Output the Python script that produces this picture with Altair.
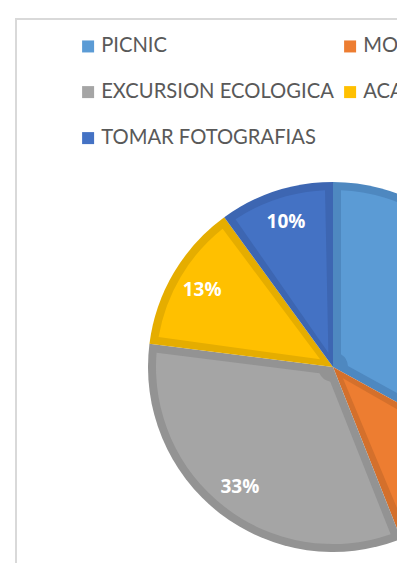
import altair as alt
import pandas as pd

categorias = ["PICNIC", "MONTAR A CABALLO", "EXCURSION ECOLOGICA", "ACAMPAR", "TOMAR FOTOGRAFIAS"]
porcentajes = [33, 11, 33, 13, 10]
colores = ["#5B9BD5", "#ED7D31", "#A5A5A5", "#FFC000", "#4472C4"]
bordes = ["#4E88C0", "#D4702C", "#939393", "#E5AD00", "#3D66B2"]

df = pd.DataFrame({
    "cat": categorias,
    "valor": porcentajes,
    "orden": list(range(len(categorias))),
    "etiqueta": [f"{v}%" for v in porcentajes],
})

W, H = 382, 545
CX, CY = 318, 349
R = 185
BORDE = 8

base = alt.Chart(df).encode(
    theta=alt.Theta("valor:Q", stack=True),
    order=alt.Order("orden:Q"),
)

exterior = base.mark_arc(outerRadius=R, x=CX, y=CY).encode(
    color=alt.Color("cat:N", scale=alt.Scale(domain=categorias, range=bordes), legend=None)
)

interior = base.mark_arc(outerRadius=R - BORDE, innerRadius=15, padAngle=0.09, x=CX, y=CY).encode(
    color=alt.Color(
        "cat:N",
        scale=alt.Scale(domain=categorias, range=colores),
        legend=alt.Legend(
            orient="none", legendX=63, legendY=18, columns=2, direction="horizontal",
            title=None, symbolType="square", symbolSize=144, symbolStrokeWidth=0,
            labelFont="Lato", labelFontSize=20.2, labelColor="#595959",
            labelOffset=3, rowPadding=25, columnPadding=6, labelLimit=500,
        ),
    )
)

etiquetas = base.mark_text(radius=152, x=CX, y=CY, font="Open Sans", fontWeight="bold",
                           fontSize=19, color="white").encode(text="etiqueta:N")

marco_izq = alt.Chart(df).mark_rule(color="#D9D9D9", strokeWidth=2).encode(
    x=alt.value(1), y=alt.value(0), y2=alt.value(H)
)
marco_sup = alt.Chart(df).mark_rule(color="#D9D9D9", strokeWidth=2).encode(
    x=alt.value(0), x2=alt.value(W), y=alt.value(1)
)

chart = alt.layer(marco_izq, marco_sup, exterior, interior, etiquetas).resolve_scale(
    color="independent"
).properties(
    width=W, height=H,
    autosize=alt.AutoSizeParams(type="none"),
    padding={"left": 7, "top": 10, "right": 0, "bottom": 0},
    background="white",
).configure_view(stroke=None)

chart.save("out.html", embed_options={"renderer": "svg", "actions": False})
